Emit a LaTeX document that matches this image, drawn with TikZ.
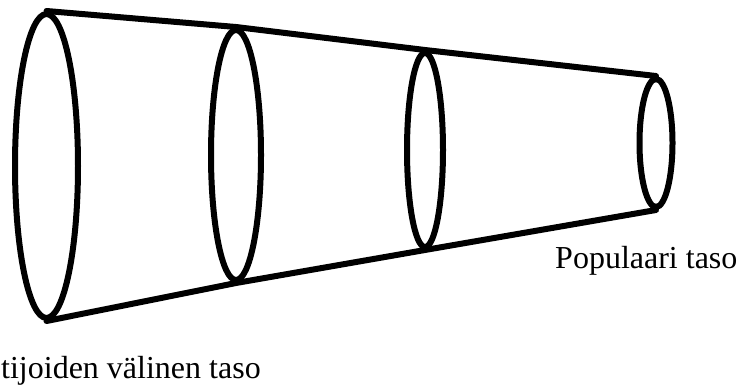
\documentclass[tikz,border=0pt]{standalone}
\usepackage{fontspec}
\setmainfont{Liberation Serif}
\usetikzlibrary{shapes.geometric}
\begin{document}
\begin{tikzpicture}[x=1pt,y=-1pt,
  ring/.style={draw=black,ellipse,line width=6pt,inner sep=0pt},
  edge/.style={draw=black,line width=6pt,line cap=round,line join=round},
  lbl/.style={font=\fontsize{32}{36}\selectfont,inner sep=0pt}]
\useasboundingbox (0,0) rectangle (741,385);
\begin{scope}
\clip (0,0) rectangle (741,385);
\node[ring,minimum width=63pt,minimum height=304pt] (e1) at (46.5,166) {};
\node[ring,minimum width=50pt,minimum height=250pt] (e2) at (236,155) {};
\node[ring,minimum width=36pt,minimum height=194pt] (e3) at (425,150) {};
\node[ring,minimum width=33pt,minimum height=128pt] (e4) at (656,143) {};
\draw[edge] (e1.north) -- (e2.north) -- (e3.north) -- (e4.north);
\draw[edge] (e1.south) -- (e2.south) -- (e3.south) -- (e4.south);
\node[lbl,anchor=base west] (pop) at (555,268) {Populaari taso};
\node[lbl,anchor=base west] (asi) at (1,378) {tijoiden välinen taso};
\end{scope}
\end{tikzpicture}
\end{document}
